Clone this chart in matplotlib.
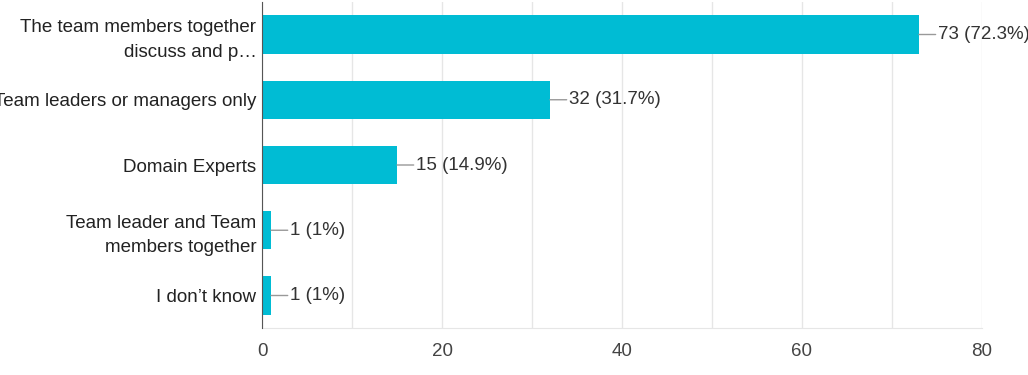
import matplotlib
matplotlib.use("Agg")
import matplotlib.pyplot as plt

# data
categories = [
    "The team members together\ndiscuss and p\u2026",
    "Team leaders or managers only",
    "Domain Experts",
    "Team leader and Team\nmembers together",
    "I don\u2019t know",
]
counts = [73, 32, 15, 1, 1]
percents = ["72.3%", "31.7%", "14.9%", "1%", "1%"]
xticks = [0, 20, 40, 60, 80]

plt.rcParams['font.family'] = ['Liberation Sans', 'DejaVu Sans']

fig = plt.figure(figsize=(10.28, 3.75), dpi=100)
ax = fig.add_axes([0.2549, 0.125, 0.7003, 0.870])

ypos = list(range(len(categories)))
ax.barh(ypos, counts, height=0.59, color='#00BCD4', zorder=3)

for y, c, p in zip(ypos, counts, percents):
    ax.annotate(f"{c} ({p})", xy=(c, y), xytext=(14, 0), textcoords='offset points',
                va='center', ha='left', fontsize=13.5, color='#333333',
                arrowprops=dict(arrowstyle='-', color='#999999', lw=1,
                                shrinkA=0, shrinkB=0))

ax.set_yticks(ypos)
ax.set_yticklabels(categories, fontsize=13.5, color='#222222', linespacing=1.55)
ax.set_ylim(len(categories) - 0.5, -0.5)
ax.set_xlim(0, 80)
ax.set_xticks(xticks)
ax.set_xticks(range(0, 81, 10), minor=True)
ax.tick_params(axis='x', labelsize=13.5, labelcolor='#444444', length=0, pad=11, which='both')
ax.tick_params(axis='y', length=0, pad=4)

ax.grid(axis='x', which='both', color='#e6e6e6', lw=1, zorder=0)
for side in ['top', 'right']:
    ax.spines[side].set_visible(False)
ax.spines['bottom'].set_color('#e6e6e6')
ax.spines['left'].set_color('#555555')
ax.spines['left'].set_zorder(4)

fig.savefig("out.png", dpi=100)
